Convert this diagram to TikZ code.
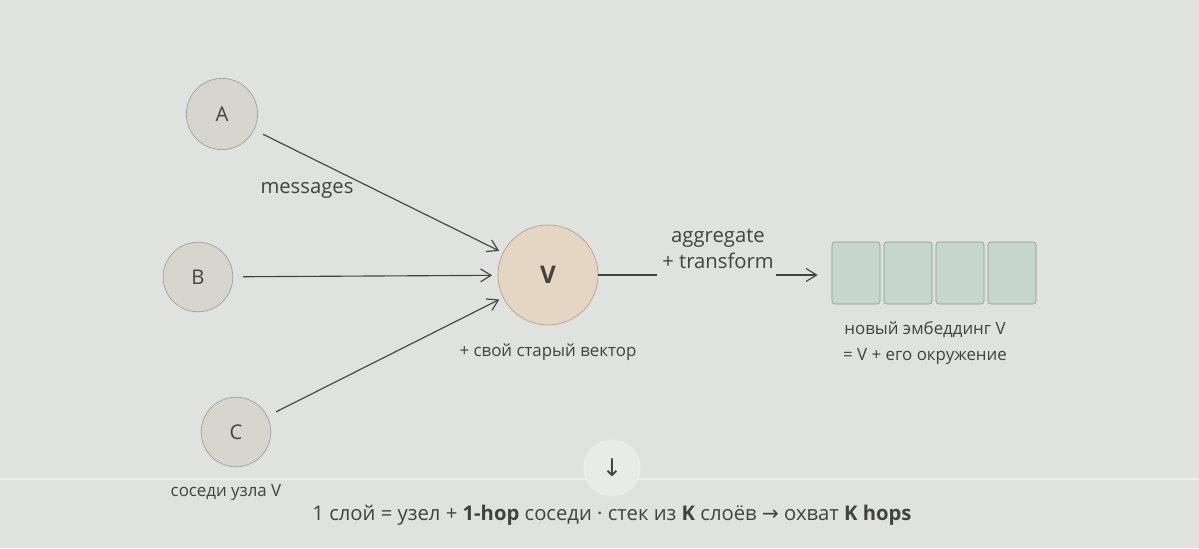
\documentclass[tikz,border=0pt]{standalone}
\usepackage{fontspec}
\setmainfont{Open Sans}
\newfontfamily\symfont{DejaVu Sans}
\usetikzlibrary{arrows.meta}
\definecolor{bgcol}{RGB}{224,226,223}
\definecolor{txtcol}{RGB}{66,66,64}
\definecolor{nbfill}{RGB}{214,214,206}
\definecolor{nbline}{RGB}{150,150,144}
\definecolor{vfill}{RGB}{228,214,194}
\definecolor{vline}{RGB}{168,150,128}
\definecolor{efill}{RGB}{198,214,204}
\definecolor{eline}{RGB}{130,152,140}
\tikzset{
  nbnode/.style={circle,draw=nbline,fill=nbfill,minimum size=1.78cm,inner sep=0pt,font=\Large,text=txtcol},
  vnode/.style={circle,draw=vline,fill=vfill,minimum size=2.5cm,inner sep=0pt,font=\LARGE\bfseries,text=txtcol},
  embox/.style={draw=eline,fill=efill,rounded corners=2pt,minimum width=1.2cm,minimum height=1.55cm,inner sep=0pt},
  lbl/.style={text=txtcol,font=\Large},
  small/.style={text=txtcol,font=\large},
  msg/.style={draw=txtcol,line width=0.8pt,-{Straight Barb[length=2.6mm,width=3.2mm]}}
}
\begin{document}
\begin{tikzpicture}[x=0.025cm,y=-0.025cm]
\useasboundingbox (0,0) rectangle (1199,548);
\fill[bgcol] (0,0) rectangle (1199,548);
\draw[white!45!bgcol,line width=1pt] (0,479) -- (1199,479);

% neighbours and the centre node
\node[nbnode] (A) at (222,114) {A};
\node[nbnode,minimum size=1.74cm] (B) at (198,277) {B};
\node[nbnode,minimum size=1.74cm] (C) at (236,432) {C};
\node[vnode] (V) at (548,275) {V};

\draw[msg,shorten <=7pt,shorten >=3pt] (A) -- (V);
\draw[msg,shorten <=7pt,shorten >=4pt] (B) -- (V);
\draw[msg,shorten <=7pt,shorten >=3pt] (C) -- (V);
\node[lbl] (msgs) at (307,190) {messages};

\node[small] (old) at (548,352) {+ свой старый вектор};
\node[small] (nbrs) at (226,492) {соседи узла V};

% aggregate step
\node[lbl,align=center,inner sep=1pt] (agg) at (718,249) {aggregate\\+ transform};
\coordinate (g1) at (657,275);
\coordinate (g2) at (776,275);
\draw[txtcol,line width=0.8pt] (V) -- (g1);

% new embedding
\foreach \i in {1,...,4}
  \node[embox] (e\i) at (804+52*\i,273) {};
\draw[msg,shorten >=10pt] (g2) -- (e1.west |- g2);
\node[small,align=center,text depth=0pt] (emb) at (925,341) {новый эмбеддинг V\\[4pt]= V + его окружение};

% scroll button and caption
\node[circle,draw=white!55!bgcol,fill=white!30!bgcol,minimum size=1.4cm,inner sep=0pt,text=txtcol,font=\LARGE] (down) at (612,468) {\symfont ↓};
\node[text=txtcol,font=\Large] (cap) at (612,515)
  {1 слой = узел + \textbf{1-hop} соседи · стек из \textbf{K} слоёв {\symfont →} охват \textbf{K hops}};
\end{tikzpicture}
\end{document}
